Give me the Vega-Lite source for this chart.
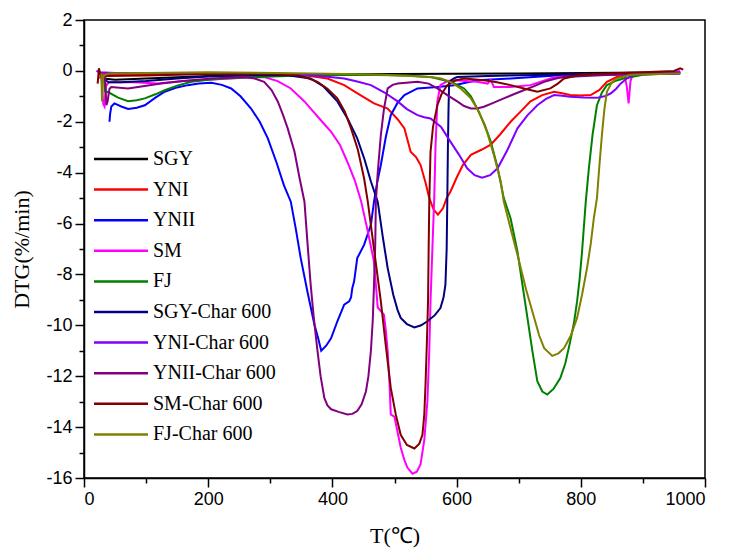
{
"$schema": "https://vega.github.io/schema/vega-lite/v6.json",
"width": 621, "height": 458,
"autosize": "none",
"padding": {"left": 84, "top": 20, "right": 25, "bottom": 75},
"config": {"view": {"stroke": "black", "strokeWidth": 1.5}, "font": "Liberation Sans"},
"data": {"values": [
{"s":"SGY","T":30,"v":-0.3},{"s":"SGY","T":50,"v":-0.35},{"s":"SGY","T":100,"v":-0.3},{"s":"SGY","T":200,"v":-0.2},{"s":"SGY","T":300,"v":-0.15},{"s":"SGY","T":500,"v":-0.12},{"s":"SGY","T":700,"v":-0.1},{"s":"SGY","T":960,"v":-0.05},
{"s":"YNI","T":25,"v":-0.3},{"s":"YNI","T":30,"v":-0.1},{"s":"YNI","T":50,"v":-0.15},{"s":"YNI","T":100,"v":-0.15},{"s":"YNI","T":200,"v":-0.1},{"s":"YNI","T":300,"v":-0.1},{"s":"YNI","T":350,"v":-0.15},{"s":"YNI","T":392,"v":-0.3},{"s":"YNI","T":419,"v":-0.56},{"s":"YNI","T":445,"v":-0.95},{"s":"YNI","T":467,"v":-1.28},{"s":"YNI","T":489,"v":-1.48},{"s":"YNI","T":505,"v":-1.9},{"s":"YNI","T":516,"v":-2.26},{"s":"YNI","T":526,"v":-3.18},{"s":"YNI","T":535,"v":-3.4},{"s":"YNI","T":542,"v":-3.7},{"s":"YNI","T":550,"v":-4.4},{"s":"YNI","T":556,"v":-5.0},{"s":"YNI","T":563,"v":-5.45},{"s":"YNI","T":570,"v":-5.65},{"s":"YNI","T":578,"v":-5.4},{"s":"YNI","T":584,"v":-5.0},{"s":"YNI","T":590,"v":-4.75},{"s":"YNI","T":600,"v":-4.2},{"s":"YNI","T":610,"v":-3.7},{"s":"YNI","T":623,"v":-3.3},{"s":"YNI","T":640,"v":-3.1},{"s":"YNI","T":655,"v":-2.9},{"s":"YNI","T":670,"v":-2.5},{"s":"YNI","T":687,"v":-2.0},{"s":"YNI","T":703,"v":-1.6},{"s":"YNI","T":719,"v":-1.2},{"s":"YNI","T":738,"v":-0.95},{"s":"YNI","T":757,"v":-0.82},{"s":"YNI","T":770,"v":-0.88},{"s":"YNI","T":783,"v":-0.95},{"s":"YNI","T":800,"v":-0.97},{"s":"YNI","T":816,"v":-0.95},{"s":"YNI","T":830,"v":-0.75},{"s":"YNI","T":842,"v":-0.43},{"s":"YNI","T":858,"v":-0.24},{"s":"YNI","T":880,"v":-0.12},{"s":"YNI","T":920,"v":-0.1},{"s":"YNI","T":960,"v":-0.05},
{"s":"YNII","T":41,"v":-2.0},{"s":"YNII","T":42,"v":-1.7},{"s":"YNII","T":44,"v":-1.4},{"s":"YNII","T":49,"v":-1.28},{"s":"YNII","T":60,"v":-1.4},{"s":"YNII","T":71,"v":-1.5},{"s":"YNII","T":85,"v":-1.45},{"s":"YNII","T":98,"v":-1.35},{"s":"YNII","T":115,"v":-1.05},{"s":"YNII","T":130,"v":-0.82},{"s":"YNII","T":150,"v":-0.65},{"s":"YNII","T":167,"v":-0.56},{"s":"YNII","T":185,"v":-0.5},{"s":"YNII","T":205,"v":-0.47},{"s":"YNII","T":222,"v":-0.55},{"s":"YNII","T":237,"v":-0.69},{"s":"YNII","T":252,"v":-1.0},{"s":"YNII","T":269,"v":-1.48},{"s":"YNII","T":283,"v":-2.0},{"s":"YNII","T":296,"v":-2.65},{"s":"YNII","T":310,"v":-3.6},{"s":"YNII","T":322,"v":-4.5},{"s":"YNII","T":333,"v":-5.14},{"s":"YNII","T":341,"v":-6.2},{"s":"YNII","T":349,"v":-7.36},{"s":"YNII","T":360,"v":-8.7},{"s":"YNII","T":371,"v":-9.97},{"s":"YNII","T":377,"v":-10.5},{"s":"YNII","T":382,"v":-11.0},{"s":"YNII","T":390,"v":-10.8},{"s":"YNII","T":398,"v":-10.5},{"s":"YNII","T":408,"v":-9.84},{"s":"YNII","T":419,"v":-9.19},{"s":"YNII","T":427,"v":-9.06},{"s":"YNII","T":430,"v":-8.9},{"s":"YNII","T":432,"v":-8.54},{"s":"YNII","T":435,"v":-8.27},{"s":"YNII","T":440,"v":-7.36},{"s":"YNII","T":451,"v":-6.84},{"s":"YNII","T":462,"v":-6.05},{"s":"YNII","T":467,"v":-5.14},{"s":"YNII","T":472,"v":-4.4},{"s":"YNII","T":478,"v":-3.7},{"s":"YNII","T":486,"v":-2.6},{"s":"YNII","T":494,"v":-1.74},{"s":"YNII","T":505,"v":-1.25},{"s":"YNII","T":516,"v":-0.95},{"s":"YNII","T":537,"v":-0.69},{"s":"YNII","T":569,"v":-0.63},{"s":"YNII","T":596,"v":-0.56},{"s":"YNII","T":633,"v":-0.37},{"s":"YNII","T":687,"v":-0.3},{"s":"YNII","T":767,"v":-0.17},{"s":"YNII","T":850,"v":-0.12},{"s":"YNII","T":960,"v":-0.08},
{"s":"SM","T":28,"v":-0.2},{"s":"SM","T":31,"v":-1.3},{"s":"SM","T":33,"v":-1.4},{"s":"SM","T":35,"v":-0.6},{"s":"SM","T":40,"v":-0.45},{"s":"SM","T":80,"v":-0.45},{"s":"SM","T":119,"v":-0.5},{"s":"SM","T":160,"v":-0.4},{"s":"SM","T":200,"v":-0.35},{"s":"SM","T":250,"v":-0.28},{"s":"SM","T":290,"v":-0.24},{"s":"SM","T":312,"v":-0.4},{"s":"SM","T":333,"v":-0.69},{"s":"SM","T":355,"v":-1.2},{"s":"SM","T":365,"v":-1.48},{"s":"SM","T":380,"v":-1.9},{"s":"SM","T":398,"v":-2.4},{"s":"SM","T":412,"v":-2.9},{"s":"SM","T":424,"v":-3.57},{"s":"SM","T":436,"v":-4.3},{"s":"SM","T":446,"v":-5.1},{"s":"SM","T":457,"v":-6.3},{"s":"SM","T":467,"v":-7.5},{"s":"SM","T":473,"v":-9.3},{"s":"SM","T":483,"v":-9.58},{"s":"SM","T":486,"v":-10.2},{"s":"SM","T":489,"v":-11.0},{"s":"SM","T":492,"v":-12.3},{"s":"SM","T":494,"v":-13.5},{"s":"SM","T":500,"v":-13.6},{"s":"SM","T":505,"v":-14.2},{"s":"SM","T":510,"v":-14.8},{"s":"SM","T":516,"v":-15.3},{"s":"SM","T":521,"v":-15.6},{"s":"SM","T":529,"v":-15.83},{"s":"SM","T":536,"v":-15.75},{"s":"SM","T":542,"v":-15.46},{"s":"SM","T":548,"v":-14.5},{"s":"SM","T":553,"v":-12.98},{"s":"SM","T":556,"v":-11.0},{"s":"SM","T":558,"v":-9.06},{"s":"SM","T":561,"v":-7.0},{"s":"SM","T":564,"v":-5.0},{"s":"SM","T":566,"v":-3.0},{"s":"SM","T":569,"v":-1.2},{"s":"SM","T":574,"v":-0.56},{"s":"SM","T":585,"v":-0.4},{"s":"SM","T":596,"v":-0.37},{"s":"SM","T":615,"v":-0.4},{"s":"SM","T":633,"v":-0.43},{"s":"SM","T":650,"v":-0.5},{"s":"SM","T":655,"v":-0.35},{"s":"SM","T":660,"v":-0.63},{"s":"SM","T":687,"v":-0.63},{"s":"SM","T":719,"v":-0.56},{"s":"SM","T":751,"v":-0.3},{"s":"SM","T":780,"v":-0.15},{"s":"SM","T":870,"v":-0.15},{"s":"SM","T":874,"v":-0.6},{"s":"SM","T":877,"v":-1.28},{"s":"SM","T":880,"v":-0.4},{"s":"SM","T":884,"v":-0.12},{"s":"SM","T":940,"v":-0.1},{"s":"SM","T":960,"v":0.0},
{"s":"FJ","T":33,"v":-0.3},{"s":"FJ","T":34,"v":-0.8},{"s":"FJ","T":40,"v":-0.85},{"s":"FJ","T":55,"v":-1.05},{"s":"FJ","T":71,"v":-1.19},{"s":"FJ","T":85,"v":-1.15},{"s":"FJ","T":98,"v":-1.08},{"s":"FJ","T":115,"v":-0.92},{"s":"FJ","T":130,"v":-0.76},{"s":"FJ","T":150,"v":-0.58},{"s":"FJ","T":173,"v":-0.43},{"s":"FJ","T":200,"v":-0.35},{"s":"FJ","T":226,"v":-0.3},{"s":"FJ","T":280,"v":-0.24},{"s":"FJ","T":350,"v":-0.18},{"s":"FJ","T":450,"v":-0.15},{"s":"FJ","T":520,"v":-0.18},{"s":"FJ","T":560,"v":-0.25},{"s":"FJ","T":580,"v":-0.37},{"s":"FJ","T":597,"v":-0.5},{"s":"FJ","T":612,"v":-0.69},{"s":"FJ","T":623,"v":-1.0},{"s":"FJ","T":633,"v":-1.48},{"s":"FJ","T":645,"v":-2.1},{"s":"FJ","T":655,"v":-2.78},{"s":"FJ","T":666,"v":-3.8},{"s":"FJ","T":676,"v":-5.0},{"s":"FJ","T":687,"v":-5.8},{"s":"FJ","T":698,"v":-7.1},{"s":"FJ","T":706,"v":-8.4},{"s":"FJ","T":714,"v":-9.7},{"s":"FJ","T":722,"v":-11.0},{"s":"FJ","T":730,"v":-12.2},{"s":"FJ","T":738,"v":-12.6},{"s":"FJ","T":746,"v":-12.72},{"s":"FJ","T":756,"v":-12.5},{"s":"FJ","T":767,"v":-12.07},{"s":"FJ","T":775,"v":-11.5},{"s":"FJ","T":783,"v":-10.63},{"s":"FJ","T":789,"v":-9.9},{"s":"FJ","T":794,"v":-9.06},{"s":"FJ","T":798,"v":-8.2},{"s":"FJ","T":802,"v":-7.1},{"s":"FJ","T":808,"v":-5.14},{"s":"FJ","T":813,"v":-3.83},{"s":"FJ","T":819,"v":-2.5},{"s":"FJ","T":826,"v":-1.35},{"s":"FJ","T":834,"v":-0.85},{"s":"FJ","T":842,"v":-0.56},{"s":"FJ","T":855,"v":-0.4},{"s":"FJ","T":869,"v":-0.3},{"s":"FJ","T":900,"v":-0.15},{"s":"FJ","T":960,"v":-0.08},
{"s":"SGY-Char 600","T":30,"v":-0.3},{"s":"SGY-Char 600","T":40,"v":-0.45},{"s":"SGY-Char 600","T":60,"v":-0.45},{"s":"SGY-Char 600","T":100,"v":-0.4},{"s":"SGY-Char 600","T":150,"v":-0.3},{"s":"SGY-Char 600","T":200,"v":-0.22},{"s":"SGY-Char 600","T":280,"v":-0.17},{"s":"SGY-Char 600","T":328,"v":-0.17},{"s":"SGY-Char 600","T":365,"v":-0.3},{"s":"SGY-Char 600","T":385,"v":-0.6},{"s":"SGY-Char 600","T":408,"v":-1.2},{"s":"SGY-Char 600","T":425,"v":-1.9},{"s":"SGY-Char 600","T":440,"v":-2.65},{"s":"SGY-Char 600","T":452,"v":-3.5},{"s":"SGY-Char 600","T":462,"v":-4.35},{"s":"SGY-Char 600","T":473,"v":-5.14},{"s":"SGY-Char 600","T":481,"v":-6.5},{"s":"SGY-Char 600","T":489,"v":-7.75},{"s":"SGY-Char 600","T":498,"v":-8.8},{"s":"SGY-Char 600","T":505,"v":-9.4},{"s":"SGY-Char 600","T":510,"v":-9.71},{"s":"SGY-Char 600","T":520,"v":-9.95},{"s":"SGY-Char 600","T":532,"v":-10.08},{"s":"SGY-Char 600","T":543,"v":-10.0},{"s":"SGY-Char 600","T":553,"v":-9.84},{"s":"SGY-Char 600","T":565,"v":-9.6},{"s":"SGY-Char 600","T":574,"v":-9.32},{"s":"SGY-Char 600","T":579,"v":-8.9},{"s":"SGY-Char 600","T":582,"v":-8.4},{"s":"SGY-Char 600","T":584,"v":-7.0},{"s":"SGY-Char 600","T":585,"v":-5.14},{"s":"SGY-Char 600","T":586,"v":-3.0},{"s":"SGY-Char 600","T":587,"v":-1.5},{"s":"SGY-Char 600","T":588,"v":-0.43},{"s":"SGY-Char 600","T":595,"v":-0.3},{"s":"SGY-Char 600","T":601,"v":-0.24},{"s":"SGY-Char 600","T":650,"v":-0.2},{"s":"SGY-Char 600","T":750,"v":-0.15},{"s":"SGY-Char 600","T":960,"v":-0.1},
{"s":"YNI-Char 600","T":20,"v":0.0},{"s":"YNI-Char 600","T":25,"v":-0.05},{"s":"YNI-Char 600","T":50,"v":-0.08},{"s":"YNI-Char 600","T":150,"v":-0.08},{"s":"YNI-Char 600","T":250,"v":-0.08},{"s":"YNI-Char 600","T":320,"v":-0.12},{"s":"YNI-Char 600","T":380,"v":-0.2},{"s":"YNI-Char 600","T":419,"v":-0.3},{"s":"YNI-Char 600","T":440,"v":-0.42},{"s":"YNI-Char 600","T":462,"v":-0.56},{"s":"YNI-Char 600","T":484,"v":-0.85},{"s":"YNI-Char 600","T":505,"v":-1.2},{"s":"YNI-Char 600","T":520,"v":-1.5},{"s":"YNI-Char 600","T":537,"v":-1.74},{"s":"YNI-Char 600","T":548,"v":-1.82},{"s":"YNI-Char 600","T":558,"v":-1.87},{"s":"YNI-Char 600","T":575,"v":-2.2},{"s":"YNI-Char 600","T":590,"v":-2.78},{"s":"YNI-Char 600","T":604,"v":-3.3},{"s":"YNI-Char 600","T":617,"v":-3.83},{"s":"YNI-Char 600","T":629,"v":-4.1},{"s":"YNI-Char 600","T":641,"v":-4.2},{"s":"YNI-Char 600","T":654,"v":-4.1},{"s":"YNI-Char 600","T":666,"v":-3.83},{"s":"YNI-Char 600","T":682,"v":-3.1},{"s":"YNI-Char 600","T":698,"v":-2.26},{"s":"YNI-Char 600","T":714,"v":-1.75},{"s":"YNI-Char 600","T":730,"v":-1.35},{"s":"YNI-Char 600","T":744,"v":-1.1},{"s":"YNI-Char 600","T":757,"v":-0.95},{"s":"YNI-Char 600","T":770,"v":-0.98},{"s":"YNI-Char 600","T":783,"v":-1.02},{"s":"YNI-Char 600","T":805,"v":-1.05},{"s":"YNI-Char 600","T":826,"v":-1.06},{"s":"YNI-Char 600","T":838,"v":-1.0},{"s":"YNI-Char 600","T":848,"v":-0.89},{"s":"YNI-Char 600","T":857,"v":-0.7},{"s":"YNI-Char 600","T":864,"v":-0.5},{"s":"YNI-Char 600","T":874,"v":-0.3},{"s":"YNI-Char 600","T":885,"v":-0.15},{"s":"YNI-Char 600","T":960,"v":-0.05},
{"s":"YNII-Char 600","T":34,"v":-0.2},{"s":"YNII-Char 600","T":36,"v":-1.35},{"s":"YNII-Char 600","T":38,"v":-1.2},{"s":"YNII-Char 600","T":41,"v":-0.7},{"s":"YNII-Char 600","T":44,"v":-0.63},{"s":"YNII-Char 600","T":71,"v":-0.69},{"s":"YNII-Char 600","T":95,"v":-0.6},{"s":"YNII-Char 600","T":124,"v":-0.5},{"s":"YNII-Char 600","T":160,"v":-0.4},{"s":"YNII-Char 600","T":205,"v":-0.3},{"s":"YNII-Char 600","T":258,"v":-0.24},{"s":"YNII-Char 600","T":275,"v":-0.3},{"s":"YNII-Char 600","T":290,"v":-0.43},{"s":"YNII-Char 600","T":302,"v":-0.75},{"s":"YNII-Char 600","T":312,"v":-1.2},{"s":"YNII-Char 600","T":320,"v":-1.7},{"s":"YNII-Char 600","T":328,"v":-2.26},{"s":"YNII-Char 600","T":339,"v":-3.18},{"s":"YNII-Char 600","T":347,"v":-4.2},{"s":"YNII-Char 600","T":355,"v":-5.14},{"s":"YNII-Char 600","T":360,"v":-6.8},{"s":"YNII-Char 600","T":365,"v":-8.4},{"s":"YNII-Char 600","T":370,"v":-9.7},{"s":"YNII-Char 600","T":376,"v":-11.0},{"s":"YNII-Char 600","T":381,"v":-12.0},{"s":"YNII-Char 600","T":387,"v":-12.85},{"s":"YNII-Char 600","T":392,"v":-13.15},{"s":"YNII-Char 600","T":398,"v":-13.3},{"s":"YNII-Char 600","T":410,"v":-13.4},{"s":"YNII-Char 600","T":424,"v":-13.5},{"s":"YNII-Char 600","T":432,"v":-13.48},{"s":"YNII-Char 600","T":440,"v":-13.37},{"s":"YNII-Char 600","T":447,"v":-13.1},{"s":"YNII-Char 600","T":454,"v":-12.6},{"s":"YNII-Char 600","T":458,"v":-12.0},{"s":"YNII-Char 600","T":462,"v":-11.0},{"s":"YNII-Char 600","T":465,"v":-9.8},{"s":"YNII-Char 600","T":467,"v":-8.4},{"s":"YNII-Char 600","T":469,"v":-6.8},{"s":"YNII-Char 600","T":470,"v":-5.14},{"s":"YNII-Char 600","T":473,"v":-4.0},{"s":"YNII-Char 600","T":478,"v":-2.52},{"s":"YNII-Char 600","T":483,"v":-1.5},{"s":"YNII-Char 600","T":489,"v":-0.69},{"s":"YNII-Char 600","T":497,"v":-0.55},{"s":"YNII-Char 600","T":505,"v":-0.5},{"s":"YNII-Char 600","T":537,"v":-0.43},{"s":"YNII-Char 600","T":555,"v":-0.5},{"s":"YNII-Char 600","T":569,"v":-0.69},{"s":"YNII-Char 600","T":585,"v":-0.95},{"s":"YNII-Char 600","T":601,"v":-1.2},{"s":"YNII-Char 600","T":612,"v":-1.38},{"s":"YNII-Char 600","T":623,"v":-1.48},{"s":"YNII-Char 600","T":633,"v":-1.48},{"s":"YNII-Char 600","T":644,"v":-1.41},{"s":"YNII-Char 600","T":660,"v":-1.25},{"s":"YNII-Char 600","T":676,"v":-1.08},{"s":"YNII-Char 600","T":692,"v":-0.92},{"s":"YNII-Char 600","T":708,"v":-0.76},{"s":"YNII-Char 600","T":725,"v":-0.6},{"s":"YNII-Char 600","T":741,"v":-0.43},{"s":"YNII-Char 600","T":760,"v":-0.3},{"s":"YNII-Char 600","T":773,"v":-0.24},{"s":"YNII-Char 600","T":850,"v":-0.15},{"s":"YNII-Char 600","T":960,"v":-0.1},
{"s":"SM-Char 600","T":22,"v":-0.5},{"s":"SM-Char 600","T":24,"v":0.1},{"s":"SM-Char 600","T":27,"v":-0.2},{"s":"SM-Char 600","T":35,"v":-0.2},{"s":"SM-Char 600","T":100,"v":-0.18},{"s":"SM-Char 600","T":200,"v":-0.12},{"s":"SM-Char 600","T":300,"v":-0.12},{"s":"SM-Char 600","T":344,"v":-0.17},{"s":"SM-Char 600","T":360,"v":-0.28},{"s":"SM-Char 600","T":376,"v":-0.43},{"s":"SM-Char 600","T":392,"v":-0.7},{"s":"SM-Char 600","T":408,"v":-1.08},{"s":"SM-Char 600","T":420,"v":-1.6},{"s":"SM-Char 600","T":430,"v":-2.26},{"s":"SM-Char 600","T":441,"v":-3.1},{"s":"SM-Char 600","T":451,"v":-4.22},{"s":"SM-Char 600","T":457,"v":-5.14},{"s":"SM-Char 600","T":467,"v":-7.0},{"s":"SM-Char 600","T":478,"v":-9.06},{"s":"SM-Char 600","T":486,"v":-10.8},{"s":"SM-Char 600","T":494,"v":-12.46},{"s":"SM-Char 600","T":502,"v":-13.5},{"s":"SM-Char 600","T":510,"v":-14.3},{"s":"SM-Char 600","T":520,"v":-14.7},{"s":"SM-Char 600","T":532,"v":-14.84},{"s":"SM-Char 600","T":540,"v":-14.65},{"s":"SM-Char 600","T":545,"v":-14.3},{"s":"SM-Char 600","T":548,"v":-13.5},{"s":"SM-Char 600","T":550,"v":-12.3},{"s":"SM-Char 600","T":552,"v":-10.8},{"s":"SM-Char 600","T":554,"v":-9.06},{"s":"SM-Char 600","T":555,"v":-7.0},{"s":"SM-Char 600","T":556,"v":-5.14},{"s":"SM-Char 600","T":558,"v":-3.18},{"s":"SM-Char 600","T":562,"v":-2.2},{"s":"SM-Char 600","T":569,"v":-1.35},{"s":"SM-Char 600","T":576,"v":-0.9},{"s":"SM-Char 600","T":585,"v":-0.56},{"s":"SM-Char 600","T":598,"v":-0.38},{"s":"SM-Char 600","T":612,"v":-0.3},{"s":"SM-Char 600","T":644,"v":-0.37},{"s":"SM-Char 600","T":665,"v":-0.45},{"s":"SM-Char 600","T":687,"v":-0.56},{"s":"SM-Char 600","T":710,"v":-0.7},{"s":"SM-Char 600","T":730,"v":-0.82},{"s":"SM-Char 600","T":751,"v":-0.69},{"s":"SM-Char 600","T":763,"v":-0.5},{"s":"SM-Char 600","T":773,"v":-0.3},{"s":"SM-Char 600","T":800,"v":-0.15},{"s":"SM-Char 600","T":842,"v":-0.1},{"s":"SM-Char 600","T":900,"v":-0.05},{"s":"SM-Char 600","T":950,"v":0.0},{"s":"SM-Char 600","T":960,"v":0.1},{"s":"SM-Char 600","T":965,"v":0.05},
{"s":"FJ-Char 600","T":28,"v":-0.1},{"s":"FJ-Char 600","T":29,"v":-1.2},{"s":"FJ-Char 600","T":31,"v":-0.2},{"s":"FJ-Char 600","T":40,"v":-0.1},{"s":"FJ-Char 600","T":100,"v":-0.08},{"s":"FJ-Char 600","T":200,"v":-0.05},{"s":"FJ-Char 600","T":312,"v":-0.08},{"s":"FJ-Char 600","T":420,"v":-0.12},{"s":"FJ-Char 600","T":480,"v":-0.15},{"s":"FJ-Char 600","T":526,"v":-0.2},{"s":"FJ-Char 600","T":558,"v":-0.24},{"s":"FJ-Char 600","T":575,"v":-0.3},{"s":"FJ-Char 600","T":590,"v":-0.43},{"s":"FJ-Char 600","T":607,"v":-0.7},{"s":"FJ-Char 600","T":623,"v":-1.08},{"s":"FJ-Char 600","T":636,"v":-1.6},{"s":"FJ-Char 600","T":649,"v":-2.4},{"s":"FJ-Char 600","T":660,"v":-3.3},{"s":"FJ-Char 600","T":671,"v":-4.35},{"s":"FJ-Char 600","T":676,"v":-5.14},{"s":"FJ-Char 600","T":687,"v":-6.2},{"s":"FJ-Char 600","T":698,"v":-7.23},{"s":"FJ-Char 600","T":712,"v":-8.6},{"s":"FJ-Char 600","T":725,"v":-9.71},{"s":"FJ-Char 600","T":733,"v":-10.4},{"s":"FJ-Char 600","T":741,"v":-10.9},{"s":"FJ-Char 600","T":754,"v":-11.2},{"s":"FJ-Char 600","T":764,"v":-11.1},{"s":"FJ-Char 600","T":773,"v":-10.9},{"s":"FJ-Char 600","T":784,"v":-10.4},{"s":"FJ-Char 600","T":794,"v":-9.71},{"s":"FJ-Char 600","T":802,"v":-8.8},{"s":"FJ-Char 600","T":810,"v":-7.75},{"s":"FJ-Char 600","T":816,"v":-6.8},{"s":"FJ-Char 600","T":821,"v":-5.79},{"s":"FJ-Char 600","T":826,"v":-5.0},{"s":"FJ-Char 600","T":830,"v":-3.7},{"s":"FJ-Char 600","T":834,"v":-2.52},{"s":"FJ-Char 600","T":838,"v":-1.5},{"s":"FJ-Char 600","T":842,"v":-0.82},{"s":"FJ-Char 600","T":850,"v":-0.45},{"s":"FJ-Char 600","T":858,"v":-0.3},{"s":"FJ-Char 600","T":880,"v":-0.15},{"s":"FJ-Char 600","T":960,"v":-0.1}
]},
"mark": {"type": "line", "strokeWidth": 2, "clip": true},
"encoding": {
 "x": {"field": "T", "type": "quantitative", "scale": {"domain": [0, 1000], "nice": false},
   "axis": {"values": [0,100,200,300,400,500,600,700,800,900,1000],
     "labelExpr": "datum.value % 200 === 0 ? toString(datum.value) : ''",
     "tickSize": {"condition": {"test": "datum.value % 200 === 0", "value": 9}, "value": 5},
     "grid": false, "tickWidth": 1.5, "tickColor": "black", "domainColor": "black", "domainWidth": 1.5,
     "labelFont": "Liberation Sans", "labelFontSize": 18, "labelColor": "black", "labelPadding": 3, "labelOverlap": false,
     "title": "T(℃)", "titleFont": "Liberation Serif", "titleFontSize": 22, "titleFontWeight": "normal", "titleColor": "black", "titlePadding": 17}},
 "y": {"field": "v", "type": "quantitative", "scale": {"domain": [-16, 2], "nice": false},
   "axis": {"values": [-16,-15,-14,-13,-12,-11,-10,-9,-8,-7,-6,-5,-4,-3,-2,-1,0,1,2],
     "labelExpr": "datum.value % 2 === 0 ? toString(datum.value) : ''",
     "tickSize": {"condition": {"test": "datum.value % 2 === 0", "value": 9}, "value": 5},
     "grid": false, "tickWidth": 1.5, "tickColor": "black", "domainColor": "black", "domainWidth": 1.5,
     "labelFont": "Liberation Sans", "labelFontSize": 18, "labelColor": "black", "labelPadding": 3, "labelOverlap": false,
     "title": "DTG(%/min)", "titleFont": "Liberation Serif", "titleFontSize": 22, "titleFontWeight": "normal", "titleColor": "black", "titlePadding": 12}},
 "color": {"field": "s", "type": "nominal",
   "scale": {"domain": ["SGY","YNI","YNII","SM","FJ","SGY-Char 600","YNI-Char 600","YNII-Char 600","SM-Char 600","FJ-Char 600"],
             "range": ["#000000","#FF0000","#0000FF","#FF00FF","#008000","#000080","#8000FF","#800080","#800000","#808000"]},
   "legend": {"orient": "none", "legendX": 0, "legendY": 129, "title": null, "padding": 0, "symbolType": "M-27,0H27", "symbolSize": 4, "symbolStrokeWidth": 2.5, "symbolOffset": 27,
     "labelFont": "Liberation Serif", "labelFontSize": 20, "labelColor": "black", "labelOffset": 22, "rowPadding": 10.6, "labelLimit": 300}}
}
}
